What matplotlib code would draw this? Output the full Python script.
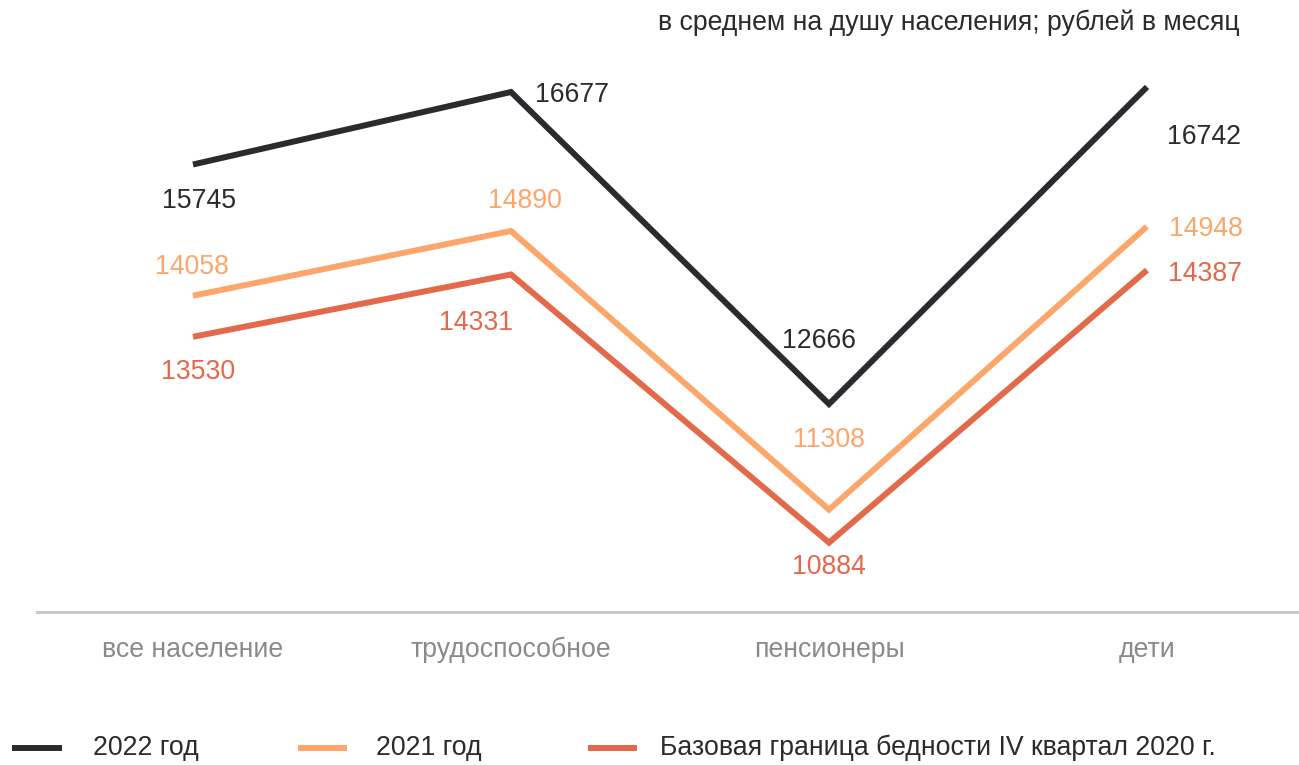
import matplotlib
matplotlib.use("Agg")
import matplotlib.pyplot as plt
from matplotlib.lines import Line2D

plt.rcParams['font.family'] = ['Liberation Sans', 'DejaVu Sans']

categories = ["все население", "трудоспособное", "пенсионеры", "дети"]
y2022 = [15745, 16677, 12666, 16742]
y2021 = [14058, 14890, 11308, 14948]
poverty = [13530, 14331, 10884, 14387]
series_names = ["2022 год", "2021 год", "Базовая граница бедности IV квартал 2020 г."]
title = "в среднем на душу населения; рублей в месяц"

colors = ["#2b2b2f", "#fda66c", "#e2694a"]

W, H = 1299, 765
fig = plt.figure(figsize=(W / 100, H / 100), dpi=100)

def fx(px):
    return px / W

def fy(py):
    return 1 - py / H

ax_left, ax_right, ax_top, ax_bot = 37, 1299, 60, 612
ax = fig.add_axes([fx(ax_left), fy(ax_bot), fx(ax_right - ax_left), (ax_bot - ax_top) / H])

# x scale: categories at 193 and 1147 px
xscale = (1147 - 193) / 3
ax.set_xlim(-(193 - ax_left) / xscale, 3 + (ax_right - 1147) / xscale)
# y scale
yscale = (16677 - 12666) / (404 - 92)
ax.set_ylim(12666 - (ax_bot - 404) * yscale, 12666 + (404 - ax_top) * yscale)

x = list(range(len(categories)))
fs = 19.2
lw = 4.3
data = [y2022, y2021, poverty]
for vals, c in zip(data, colors):
    ax.plot(x, vals, color=c, lw=lw, solid_capstyle='butt', solid_joinstyle='miter')

# label offsets in pixels (dx, dy) relative to points
offsets = [
    [(6, -37), (24, -3, 'left'), (-10, 63), (57, -50)],
    [(-1, 29), (14, 30), (0, 70), (59, -3)],
    [(5, -35), (-35, -49), (0, -24), (58, -4)],
]
for vals, c, offs in zip(data, colors, offsets):
    for i, (v, o) in enumerate(zip(vals, offs)):
        ha = 'center'
        if len(o) == 3:
            ha = o[2]
        ax.annotate(str(v), (i, v), xytext=(o[0], o[1]), textcoords='offset pixels',
                    ha=ha, va='center', color=c, fontsize=fs)

for s in ['top', 'right', 'left']:
    ax.spines[s].set_visible(False)
ax.spines['bottom'].set_color('#c8c8c8')
ax.spines['bottom'].set_linewidth(2.2)
ax.set_yticks([])
ax.set_xticks(x)
ax.set_xticklabels(categories, color='#8a8a8a', fontsize=fs)
ax.tick_params(axis='x', length=0, pad=18)
ax.patch.set_alpha(0)

fig.text(fx(1240), fy(23), title, ha='right', va='center', fontsize=fs, color='#2b2b2f')

# legend
leg = [(12, 62, 93), (298, 347, 376), (588, 637, 660)]
ly = 748
for (x0, x1, tx), c, name in zip(leg, colors, series_names):
    fig.add_artist(Line2D([fx(x0), fx(x1)], [fy(ly), fy(ly)], color=c, lw=lw,
                          transform=fig.transFigure, solid_capstyle='butt'))
    fig.text(fx(tx), fy(ly), name, ha='left', va='center', fontsize=fs, color='#2b2b2f')

fig.savefig("out.png", dpi=100)
